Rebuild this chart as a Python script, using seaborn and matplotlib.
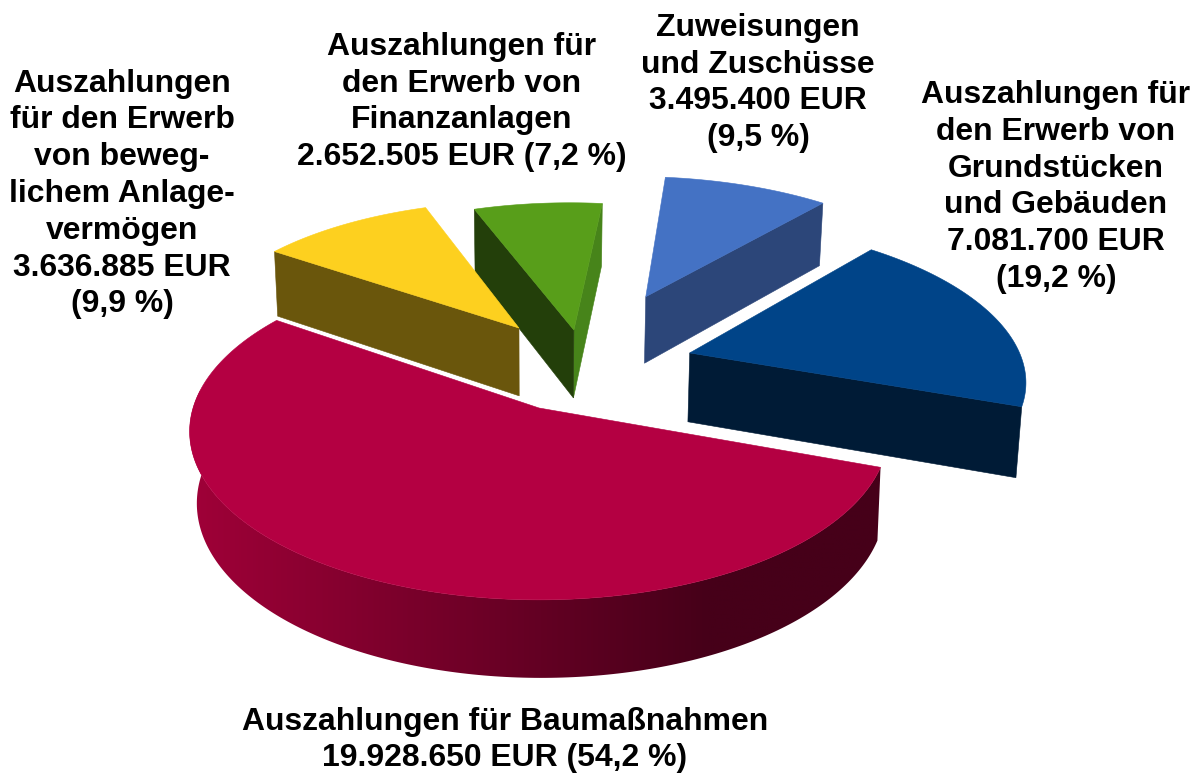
import numpy as np
import matplotlib
matplotlib.use("Agg")
import matplotlib.pyplot as plt
from matplotlib.patches import Polygon
from matplotlib.colors import to_rgb
import seaborn as sns

# data (counter-clockwise, starting from the large slice)
categories = ["Baumaßnahmen", "Grundstücke", "Zuweisungen", "Finanzanlagen", "Anlagevermögen"]
values = [19928650, 7081700, 3495400, 2652505, 3636885]
labels = [
    "Auszahlungen für Baumaßnahmen\n19.928.650 EUR (54,2 %)",
    "Auszahlungen für\nden Erwerb von\nGrundstücken\nund Gebäuden\n7.081.700 EUR\n(19,2 %)",
    "Zuweisungen\nund Zuschüsse\n3.495.400 EUR\n(9,5 %)",
    "Auszahlungen für\nden Erwerb von\nFinanzanlagen\n2.652.505 EUR (7,2 %)",
    "Auszahlungen\nfür den Erwerb\nvon beweg-\nlichem Anlage-\nvermögen\n3.636.885 EUR\n(9,9 %)",
]
label_xy = [(505, 740), (1056, 187), (758, 83), (462, 102), (122, 194)]
top_colors = sns.color_palette(["#B40042", "#004488", "#4472C4", "#589E1A", "#FDD01F"])
# shaded cut faces: (at slice start angle, at slice end angle)
side_colors = [(None, None), ("#001B36", None), ("#2C4679", None),
               ("#47841A", "#233F0A"), (None, "#6A560C")]
# explosion of each slice in disc units (u right, v away from viewer)
explode = [(0.003, 0.0), (0.46, 0.35), (0.344, 0.745), (0.111, 0.506), (-0.059, 0.52)]
draw_order = [2, 3, 4, 1, 0]
start_angle = 145.0

# projection settings
CX, CY, A, B, K = 538.0, 408.0, 346.0, 165.0, 0.14
Z0, KZ = 71.0, 0.09
# horizontal shrink of the lower plane, per slice: (factor, shift)
lower_shrink = [(0.985, 2.0), (0.988, 0.0), (0.988, 0.0), (0.988, 0.0), (0.988, 0.0)]


def project(u, v, lower=None):
    u, v = np.asarray(u, dtype=float), np.asarray(v, dtype=float)
    w = 1 + K * v
    x = A * u / w
    y = CY - B * v / w
    if lower is not None:
        x = x * lower[0] + lower[1]
        y = y + Z0 / (1 + KZ * v)
    return CX + x, y


def poly_pts(xs, ys):
    return np.column_stack([xs, ys])


sns.set_theme(style="white")
plt.rcParams["font.family"] = ["Liberation Sans", "DejaVu Sans"]
fig = plt.figure(figsize=(12.01, 7.73), dpi=100)
ax = fig.add_axes([0, 0, 1, 1])

shares = np.array(values, dtype=float) / sum(values) * 360
ends = start_angle + np.cumsum(shares)
starts = ends - shares

RIM_LEFT = np.array(to_rgb("#A00038"))
RIM_RIGHT = np.array(to_rgb("#460019"))

for i in draw_order:
    t0, t1 = np.radians(starts[i]), np.radians(ends[i])
    eu, ev = explode[i]
    t = np.linspace(t0, t1, 240)
    u, v = eu + np.cos(t), ev + np.sin(t)
    # outer rim for parts facing the viewer, shaded from left to right
    if i == 0:
        mask = (np.sin(t) < 0.12) | (np.cos(t) > 0)
        tr = t[mask]
        ur, vr = eu + np.cos(tr), ev + np.sin(tr)
        xt, yt = project(ur, vr)
        xb, yb = project(ur, vr, lower=lower_shrink[i])
        rim = Polygon(poly_pts(np.r_[xt, xb[::-1]], np.r_[yt, yb[::-1]]), closed=True,
                      facecolor="none", edgecolor="none", transform=ax.transData)
        ax.add_patch(rim)
        x0, x1 = xt.min() - 5, xt.max() + 5
        frac = np.clip((np.linspace(x0, x1, 400) - 188) / 520, 0, 1)[None, :, None]
        grad = RIM_LEFT[None, None, :] * (1 - frac) + RIM_RIGHT[None, None, :] * frac
        im = ax.imshow(grad, extent=(x0, x1, yb.max() + 5, yt.min() - 5), aspect="auto",
                       interpolation="bilinear", zorder=i + 1)
        im.set_clip_path(rim)
    # cut faces
    for ang, col in zip((t0, t1), side_colors[i]):
        if col is None:
            continue
        xa, ya = project([eu, eu + np.cos(ang)], [ev, ev + np.sin(ang)])
        xc, yc = project([eu + np.cos(ang), eu], [ev + np.sin(ang), ev], lower=lower_shrink[i])
        ax.add_patch(Polygon(poly_pts(np.r_[xa, xc], np.r_[ya, yc]), closed=True,
                             facecolor=col, edgecolor=col, linewidth=0.4))
    # top face
    xs, ys = project(np.r_[eu, u], np.r_[ev, v])
    ax.add_patch(Polygon(poly_pts(xs, ys), closed=True, facecolor=top_colors[i],
                         edgecolor=top_colors[i], linewidth=0.4, zorder=8))

ax.set_xlim(0, 1201)
ax.set_ylim(773, 0)
ax.axis("off")

for txt, (lx, ly) in zip(labels, label_xy):
    ax.text(lx, ly, txt, ha="center", va="center", ma="center", fontsize=22.95,
            fontweight="bold", color="black", linespacing=1.295, zorder=20)

fig.savefig("out.png", dpi=100, facecolor="white")
